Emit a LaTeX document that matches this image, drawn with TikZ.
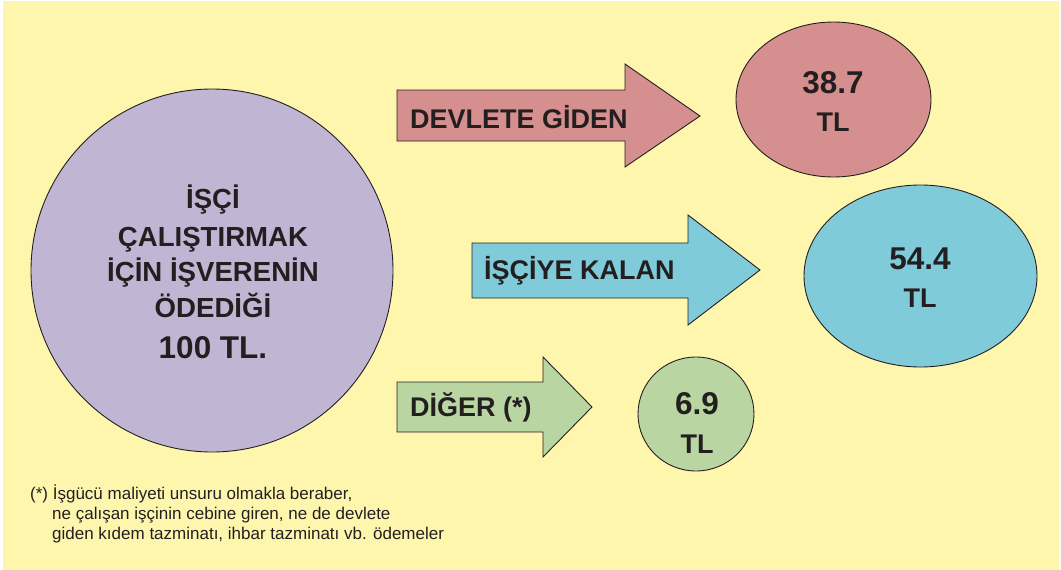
\documentclass[tikz,border=0pt]{standalone}
\usepackage{fontspec}
\setmainfont{Liberation Sans}
\usetikzlibrary{shapes.geometric}
\definecolor{bgyellow}{HTML}{FFF6AE}
\definecolor{cpurple}{HTML}{C0B6D3}
\definecolor{cpink}{HTML}{D68F8F}
\definecolor{cblue}{HTML}{80CBD9}
\definecolor{cgreen}{HTML}{B9D5A1}
\definecolor{ink}{HTML}{231F20}
\tikzset{
  blob/.style={ellipse, draw=ink, line width=0.9pt, inner sep=0pt},
  arrowbox/.style={draw=ink, line width=0.9pt, line join=miter},
  bigtxt/.style={inner sep=0pt, text=ink, font=\fontsize{27}{30}\selectfont\bfseries},
  circtxt/.style={inner sep=0pt, text=ink, font=\fontsize{27.6}{30}\selectfont\bfseries},
  numtxt/.style={inner sep=0pt, text=ink, font=\fontsize{31.5}{34}\selectfont\bfseries},
  notetxt/.style={inner sep=0pt, text=ink, font=\fontsize{17}{20}\selectfont}
}
\begin{document}
\begin{tikzpicture}[x=1pt,y=-1pt]
\useasboundingbox (0,0) rectangle (1061,570);
\fill[bgyellow] (3,1) rectangle (1059,570);

% big circle
\node[blob, fill=cpurple, minimum width=362pt, minimum height=363pt] (c0) at (212,270.5) {};
\node[circtxt, anchor=base] (l1) at (213,208) {İŞÇİ};
\node[circtxt, anchor=base] (l2) at (213,246) {ÇALIŞTIRMAK};
\node[circtxt, anchor=base] (l3) at (213,281) {İÇİN İŞVERENİN};
\node[circtxt, anchor=base] (l4) at (213,317) {ÖDEDİĞİ};
\node[numtxt, anchor=base] (l5) at (213,358) {100 TL.};

% arrows
\filldraw[arrowbox, fill=cpink] (397,90) -- (625,90) -- (625,64) -- (700,116) -- (625,167) -- (625,141) -- (397,141) -- cycle;
\node[bigtxt, anchor=base west] (a1) at (410,128) {DEVLETE GİDEN};

\filldraw[arrowbox, fill=cblue] (472,243) -- (688,243) -- (688,215) -- (760,270) -- (688,325) -- (688,298) -- (472,298) -- cycle;
\node[bigtxt, anchor=base west] (a2) at (484,279) {İŞÇİYE KALAN};

\filldraw[arrowbox, fill=cgreen] (397,382) -- (543,382) -- (543,357) -- (592,407) -- (543,457) -- (543,432) -- (397,432) -- cycle;
\node[bigtxt, anchor=base west] (a3) at (410,416) {DİĞER (*)};

% result ellipses
\node[blob, fill=cpink, minimum width=195pt, minimum height=155pt] (e1) at (833.5,99.5) {};
\node[numtxt, anchor=base] (n1) at (833,93) {38.7};
\node[bigtxt, anchor=base] (t1) at (833,131) {TL};

\node[blob, fill=cblue, minimum width=233pt, minimum height=182pt] (e2) at (920.5,276) {};
\node[numtxt, anchor=base] (n2) at (920,269) {54.4};
\node[bigtxt, anchor=base] (t2) at (920,307) {TL};

\node[blob, fill=cgreen, minimum width=116pt, minimum height=114pt] (e3) at (696,414) {};
\node[numtxt, anchor=base] (n3) at (697,414) {6.9};
\node[bigtxt, anchor=base] (t3) at (697,453) {TL};

% footnote
\node[notetxt, anchor=base west] (f1) at (30,499) {(*) İşgücü maliyeti unsuru olmakla beraber,};
\node[notetxt, anchor=base west] (f2) at (52,519) {ne çalışan işçinin cebine giren, ne de devlete};
\node[notetxt, anchor=base west] (f3) at (52,539) {giden kıdem tazminatı, ihbar tazminatı vb. ödemeler};
\end{tikzpicture}
\end{document}
